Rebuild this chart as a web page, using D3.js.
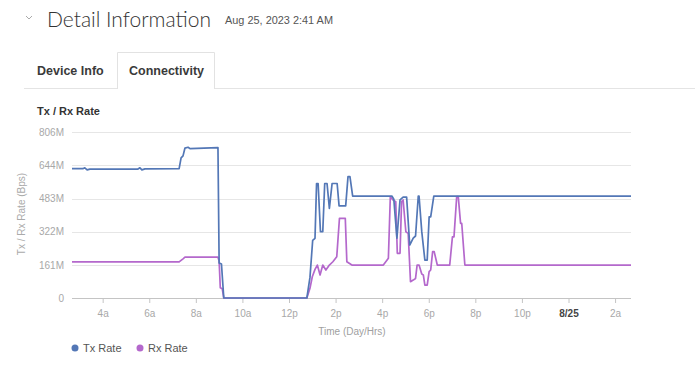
<!DOCTYPE html>
<html><head><meta charset="utf-8">
<script src="https://cdn.jsdelivr.net/npm/d3@7"></script>
<style>
body{margin:0;background:#fff;}
svg{display:block;font-family:"Liberation Sans",Arial,sans-serif;}
</style>
</head><body><svg id="c" width="695" height="371"></svg>
<script>
// ---- data ----
const txTimes = ["2023-08-24 02:41","2023-08-24 03:09","2023-08-24 03:14","2023-08-24 03:20","2023-08-24 03:27",
  "2023-08-24 05:31","2023-08-24 05:36","2023-08-24 05:41","2023-08-24 05:49","2023-08-24 07:17","2023-08-24 07:22",
  "2023-08-24 07:27","2023-08-24 07:32","2023-08-24 07:40","2023-08-24 07:45","2023-08-24 08:57","2023-08-24 09:00",
  "2023-08-24 09:06","2023-08-24 09:12","2023-08-24 12:46","2023-08-24 12:54","2023-08-24 13:01","2023-08-24 13:07",
  "2023-08-24 13:11","2023-08-24 13:15","2023-08-24 13:21","2023-08-24 13:27","2023-08-24 13:32","2023-08-24 13:38",
  "2023-08-24 13:44","2023-08-24 13:51","2023-08-24 14:04","2023-08-24 14:09","2023-08-24 14:26","2023-08-24 14:32",
  "2023-08-24 14:37","2023-08-24 14:44","2023-08-24 16:25","2023-08-24 16:30","2023-08-24 16:38","2023-08-24 16:46",
  "2023-08-24 16:54","2023-08-24 17:03","2023-08-24 17:11","2023-08-24 17:20","2023-08-24 17:26","2023-08-24 17:33",
  "2023-08-24 17:35","2023-08-24 17:42","2023-08-24 17:50","2023-08-24 17:56","2023-08-24 18:01","2023-08-24 18:05",
  "2023-08-24 18:13","2023-08-25 02:41"];
const txValues = [628,628,632,622,626,
  626,632,622,627,628,680,
  690,728,732,725,730,170,
  165,0,0,100,280,290,
  556,556,322,322,556,556,
  435,556,556,447,447,589,
  589,495,495,480,291,476,
  490,490,257,291,301,495,
  495,322,184,184,394,394,
  495,495];

const rxTimes = ["2023-08-24 02:41","2023-08-24 07:17","2023-08-24 07:27","2023-08-24 07:32","2023-08-24 08:57",
  "2023-08-24 09:00","2023-08-24 09:03","2023-08-24 09:08","2023-08-24 09:12","2023-08-24 12:46","2023-08-24 12:54",
  "2023-08-24 13:00","2023-08-24 13:07","2023-08-24 13:13","2023-08-24 13:20","2023-08-24 13:27","2023-08-24 13:35",
  "2023-08-24 13:44","2023-08-24 13:53","2023-08-24 14:03","2023-08-24 14:10","2023-08-24 14:25","2023-08-24 14:29",
  "2023-08-24 14:42","2023-08-24 16:03","2023-08-24 16:16","2023-08-24 16:21","2023-08-24 16:28","2023-08-24 16:35",
  "2023-08-24 16:39","2023-08-24 16:46","2023-08-24 16:50","2023-08-24 16:54","2023-08-24 17:01","2023-08-24 17:07",
  "2023-08-24 17:13","2023-08-24 17:20","2023-08-24 17:26","2023-08-24 17:30","2023-08-24 17:35","2023-08-24 17:42",
  "2023-08-24 17:46","2023-08-24 17:50","2023-08-24 17:56","2023-08-24 18:01","2023-08-24 18:05","2023-08-24 18:10",
  "2023-08-24 18:14","2023-08-24 18:22","2023-08-24 18:54","2023-08-24 19:01","2023-08-24 19:05","2023-08-24 19:12",
  "2023-08-24 19:16","2023-08-24 19:22","2023-08-24 19:25","2023-08-24 19:33","2023-08-25 02:41"];
const rxValues = [175,175,190,198,198,
  180,50,45,0,0,47,
  103,139,160,112,160,136,
  160,176,200,387,387,176,
  160,160,193,492,476,468,
  217,217,468,476,322,314,
  79,87,95,160,160,116,
  112,63,63,128,136,225,
  225,160,160,297,297,492,
  492,362,362,160,160];

const yTickValues = [0,161,322,483,644,806];
const yTickLabels = ["0","161M","322M","483M","644M","806M"];
const xTickTimes = ["2023-08-24 04:00","2023-08-24 06:00","2023-08-24 08:00","2023-08-24 10:00","2023-08-24 12:00",
  "2023-08-24 14:00","2023-08-24 16:00","2023-08-24 18:00","2023-08-24 20:00","2023-08-24 22:00","2023-08-25 00:00","2023-08-25 02:00"];
const xTickLabels = ["4a","6a","8a","10a","12p","2p","4p","6p","8p","10p","8/25","2a"];
const xDomain = ["2023-08-24 02:41","2023-08-25 02:41"];
const seriesNames = ["Tx Rate","Rx Rate"];
const seriesColors = ["#5377b6","#b468cc"];

// ---- drawing ----
const parse = d3.timeParse("%Y-%m-%d %H:%M");
const svg = d3.select("#c");

// header
svg.append("path").attr("d","M26,16 L29,19 L32,16").attr("fill","none").attr("stroke","#aaa").attr("stroke-width",1);
svg.append("text").attr("x",47).attr("y",27).attr("font-size",22).attr("font-weight",300)
  .attr("font-family","Lato, 'Open Sans', sans-serif").attr("fill","#333")
  .attr("textLength",164).attr("lengthAdjust","spacingAndGlyphs").text("Detail Information");
svg.append("text").attr("x",225).attr("y",24).attr("font-size",10.5).attr("fill","#555")
  .attr("textLength",108).attr("lengthAdjust","spacingAndGlyphs").text("Aug 25, 2023 2:41 AM");

// tabs
svg.append("line").attr("x1",24).attr("x2",695).attr("y1",88.5).attr("y2",88.5).attr("stroke","#e4e4e4");
svg.append("rect").attr("x",117.5).attr("y",52.5).attr("width",97).attr("height",37).attr("fill","#fff").attr("stroke","none");
svg.append("path").attr("d","M117.5,89 V52.5 H214.5 V89").attr("fill","none").attr("stroke","#e2e2e2");
svg.append("text").attr("x",37).attr("y",75).attr("font-size",12.5).attr("font-weight",700).attr("fill","#3a3a3a").text("Device Info");
svg.append("text").attr("x",129).attr("y",75).attr("font-size",12.5).attr("font-weight",700).attr("fill","#3a3a3a").text("Connectivity");

svg.append("text").attr("x",37).attr("y",115).attr("font-size",11).attr("font-weight",700).attr("fill","#333").text("Tx / Rx Rate");

// scales
const x = d3.scaleTime().domain(xDomain.map(parse)).range([72,631]);
const y = d3.scaleLinear().domain([0,806]).range([298,132]);

// gridlines
svg.append("g").selectAll("line").data(yTickValues.filter(v=>v>0)).join("line")
  .attr("x1",72).attr("x2",631).attr("y1",d=>Math.round(y(d))+0.5).attr("y2",d=>Math.round(y(d))+0.5)
  .attr("stroke","#e6e6e6");

// y axis labels
const yAxis = d3.axisLeft(y).tickValues(yTickValues).tickSize(0).tickPadding(8)
  .tickFormat((d,i)=>yTickLabels[i]);
const gy = svg.append("g").attr("transform","translate(72,0)").call(yAxis);
gy.select(".domain").remove();
gy.selectAll("text").attr("font-size",10).attr("fill","#a8a8a8").attr("font-family","Liberation Sans, Arial, sans-serif");

// x axis
const xAxis = d3.axisBottom(x).tickValues(xTickTimes.map(parse)).tickSize(5).tickPadding(7)
  .tickFormat((d,i)=>xTickLabels[i]);
const gx = svg.append("g").attr("transform","translate(0,298)").call(xAxis);
gx.select(".domain").attr("stroke","#c4c4c4").attr("d","M72,0.5H631");
gx.selectAll(".tick line").attr("stroke","#c4c4c4");
gx.selectAll("text").attr("font-size",10).attr("fill","#a8a8a8").attr("font-family","Liberation Sans, Arial, sans-serif")
  .attr("font-weight",(d,i)=>xTickLabels[i]==="8/25"?700:400)
  .attr("fill",(d,i)=>xTickLabels[i]==="8/25"?"#444":"#a8a8a8");

// axis titles
svg.append("text").attr("transform","translate(25,214) rotate(-90)").attr("text-anchor","middle")
  .attr("font-size",10).attr("fill","#aaa").text("Tx / Rx Rate (Bps)");
svg.append("text").attr("x",352).attr("y",335).attr("text-anchor","middle")
  .attr("font-size",10).attr("fill","#a0a0a0").text("Time (Day/Hrs)");

// lines
const line = d3.line().x(d=>x(d[0])).y(d=>y(d[1]));
const txData = txTimes.map((t,i)=>[parse(t),txValues[i]]);
const rxData = rxTimes.map((t,i)=>[parse(t),rxValues[i]]);
svg.append("path").datum(rxData).attr("d",line).attr("fill","none").attr("stroke",seriesColors[1]).attr("stroke-width",1.7).attr("stroke-linejoin","round");
svg.append("path").datum(txData).attr("d",line).attr("fill","none").attr("stroke",seriesColors[0]).attr("stroke-width",1.7).attr("stroke-linejoin","round");

// legend
const lg = svg.append("g").selectAll("g").data(seriesNames).join("g")
  .attr("transform",(d,i)=>`translate(${75+i*65},348)`);
lg.append("circle").attr("r",3.5).attr("fill",(d,i)=>seriesColors[i]);
lg.append("text").attr("x",8).attr("y",4).attr("font-size",11).attr("fill","#555").text(d=>d);
</script>
</body></html>
